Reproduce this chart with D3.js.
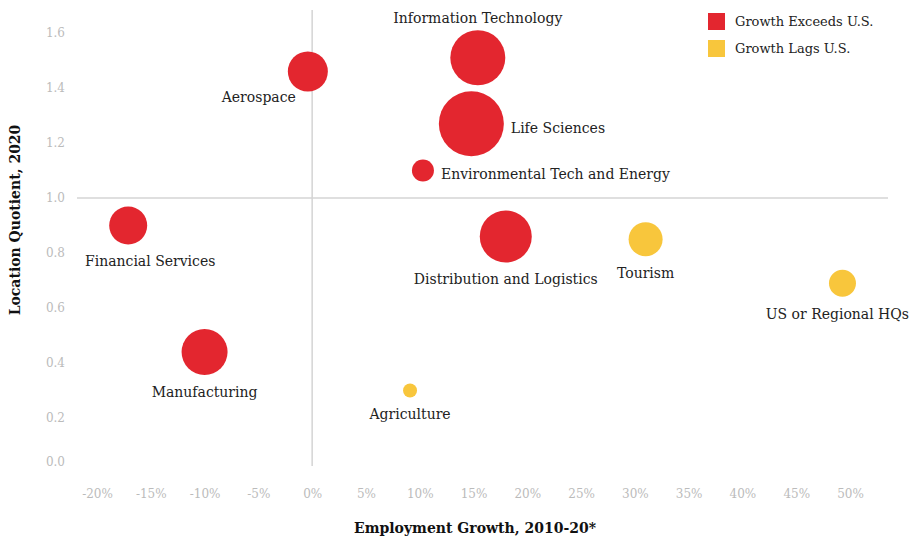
<!DOCTYPE html>
<html>
<head>
<meta charset="utf-8">
<script src="https://cdn.jsdelivr.net/npm/d3@7"></script>
<style>
  body { margin: 0; background: #fff; }
  svg { font-family: "DejaVu Serif", serif; }
  .tick text { fill: #bbb; font-size: 12px; }
  .lbl { fill: #222; font-size: 14px; }
  .title { fill: #111; font-size: 14px; font-weight: bold; }
</style>
</head>
<body>
<svg class="chart" width="912" height="540"></svg>
<script>
// clusters
var names = ["Information Technology", "Aerospace", "Life Sciences", "Environmental Tech and Energy",
             "Financial Services", "Distribution and Logistics", "Tourism", "US or Regional HQs",
             "Manufacturing", "Agriculture"];
var growth = [0.154, -0.004, 0.148, 0.103, -0.171, 0.180, 0.310, 0.493, -0.100, 0.091];
var quotient = [1.51, 1.46, 1.27, 1.10, 0.90, 0.86, 0.85, 0.69, 0.44, 0.30];
var size = [756, 400, 1056, 121, 361, 676, 289, 182, 529, 49];
var exceeds = [true, true, true, true, true, true, false, false, true, false];

var xTicks = [-0.2, -0.15, -0.1, -0.05, 0, 0.05, 0.1, 0.15, 0.2, 0.25, 0.3, 0.35, 0.4, 0.45, 0.5];
var yTicks = [0, 0.2, 0.4, 0.6, 0.8, 1.0, 1.2, 1.4, 1.6];
var legendItems = ["Growth Exceeds U.S.", "Growth Lags U.S."];

var red = "#e3262f", yellow = "#f8c63c";

// where each label sits relative to its bubble
var place = {
  "Information Technology": "above",
  "Aerospace": "leftBelow",
  "Life Sciences": "right",
  "Environmental Tech and Energy": "right",
  "Financial Services": "belowRight"
};

var data = names.map(function(n, i) {
  return {name: n, g: growth[i], q: quotient[i], s: size[i], up: exceeds[i]};
});

var svg = d3.select(".chart");

var x = d3.scaleLinear().domain([-0.2, 0.5]).range([97, 850]);
var y = d3.scaleLinear().domain([0, 1.6]).range([473, 33]);
var r = d3.scaleSqrt().domain([0, d3.max(size)]).range([0, 32.5]);

var pct = function(d) { return Math.round(d * 100) + "%"; };

// reference lines
svg.append("line")
    .attr("x1", 77).attr("x2", 888)
    .attr("y1", y(1)).attr("y2", y(1))
    .attr("stroke", "#d4d4d4").attr("stroke-width", 1.5);
svg.append("line")
    .attr("x1", x(0)).attr("x2", x(0))
    .attr("y1", 10).attr("y2", 466)
    .attr("stroke", "#d4d4d4").attr("stroke-width", 1.5);

// axes
var yAxis = svg.append("g")
    .attr("transform", "translate(68,0)")
    .call(d3.axisLeft(y).tickValues(yTicks).tickSize(0).tickPadding(3).tickFormat(d3.format(".1f")));
var xAxis = svg.append("g")
    .attr("transform", "translate(0,486)")
    .call(d3.axisBottom(x).tickValues(xTicks).tickSize(0).tickPadding(3).tickFormat(pct));
svg.selectAll(".domain").remove();
svg.selectAll(".tick text").style("font-family", "DejaVu Serif, serif");
// bottom label is pulled up into the plot
yAxis.selectAll(".tick").filter(function(d) { return d === 0; })
    .select("text").attr("y", -11);

// bubbles
var node = svg.selectAll("g.node")
    .data(data)
  .enter().append("g")
    .attr("class", "node")
    .attr("transform", function(d) { return "translate(" + x(d.g) + "," + y(d.q) + ")"; });

node.append("circle")
    .attr("r", function(d) { return r(d.s); })
    .attr("fill", function(d) { return d.up ? red : yellow; });

node.append("text")
    .attr("class", "lbl")
    .attr("dy", "0.35em")
    .attr("text-anchor", function(d) {
      var p = place[d.name];
      if (p === "right") return "start";
      if (p === "leftBelow") return "end";
      return "middle";
    })
    .attr("x", function(d) {
      var p = place[d.name], rr = r(d.s);
      if (p === "right") return rr + 7;
      if (p === "leftBelow") return -12;
      if (p === "belowRight") return 22;
      return 0;
    })
    .attr("y", function(d) {
      var p = place[d.name], rr = r(d.s);
      if (p === "above") return -rr - 12;
      if (p === "right") return 4;
      if (p === "leftBelow") return 26;
      return rr + 17;
    })
    .text(function(d) { return d.name; });

// keep labels inside the right edge
node.select("text").each(function(d) {
  var b = this.getBBox(), right = x(d.g) + b.x + b.width;
  if (right > 909) d3.select(this).attr("x", +d3.select(this).attr("x") - (right - 909));
});

// legend
var legend = svg.selectAll("g.legend")
    .data(legendItems)
  .enter().append("g")
    .attr("class", "legend")
    .attr("transform", function(d, i) { return "translate(708," + (13 + i * 27) + ")"; });
legend.append("rect")
    .attr("width", 17).attr("height", 17)
    .attr("fill", function(d, i) { return i ? yellow : red; });
legend.append("text")
    .attr("class", "lbl")
    .attr("x", 27).attr("y", 8.5).attr("dy", "0.35em")
    .style("font-size", "13px")
    .text(function(d) { return d; });

// axis titles
svg.append("text")
    .attr("class", "title")
    .attr("text-anchor", "middle")
    .attr("transform", "translate(20,220) rotate(-90)")
    .text("Location Quotient, 2020");
svg.append("text")
    .attr("class", "title")
    .attr("text-anchor", "middle")
    .attr("x", 475).attr("y", 533)
    .text("Employment Growth, 2010-20*");
</script>
</body>
</html>
